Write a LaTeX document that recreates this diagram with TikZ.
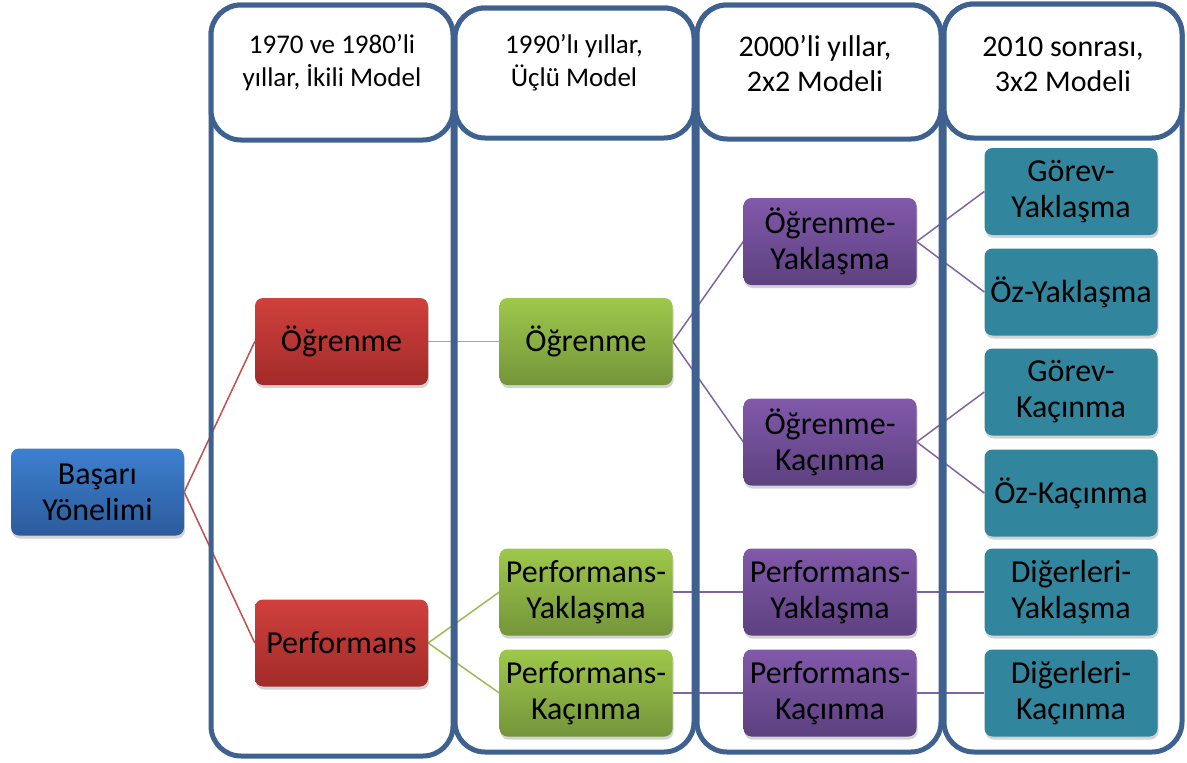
\documentclass[tikz,border=0pt]{standalone}
\usepackage{fontspec}
\setmainfont{Carlito}
\usetikzlibrary{shadows}
\pgfdeclarelayer{lines}
\pgfdeclarelayer{cols}
\pgfsetlayers{lines,cols,main}
\definecolor{colborder}{HTML}{3E6190}
\definecolor{redT}{HTML}{D0403C}
\definecolor{redB}{HTML}{A22B29}
\definecolor{bluT}{HTML}{3D80D0}
\definecolor{bluB}{HTML}{2B5B9C}
\definecolor{grnT}{HTML}{9EC84B}
\definecolor{grnB}{HTML}{74953A}
\definecolor{purT}{HTML}{8159AA}
\definecolor{purB}{HTML}{5D4180}
\definecolor{tealC}{HTML}{31859C}
\definecolor{redL}{HTML}{C0504D}
\definecolor{grnL}{HTML}{9BBB59}
\definecolor{purL}{HTML}{8064A2}
\tikzset{
  box/.style={rounded corners=8pt, minimum width=173pt, minimum height=87pt,
    inner sep=0pt, text width=172pt, align=center,
    font=\fontsize{32}{36}\selectfont,
    drop shadow={shadow xshift=1pt, shadow yshift=-3pt, opacity=0.35}},
  bluebox/.style={box, top color=bluT, bottom color=bluB},
  redbox/.style={box, top color=redT, bottom color=redB},
  grnbox/.style={box, top color=grnT, bottom color=grnB},
  purbox/.style={box, top color=purT, bottom color=purB},
  tealbox/.style={box, fill=tealC},
  colframe/.style={draw=colborder, line width=5pt, rounded corners=30pt},
  headtext/.style={align=center, font=\fontsize{27}{33}\selectfont},
  headbig/.style={align=center, font=\fontsize{30}{35}\selectfont},
  redline/.style={draw=redL, line width=1.5pt},
  grnline/.style={draw=grnL, line width=1.5pt},
  purline/.style={draw=purL, line width=1.5pt}
}
\begin{document}
\begin{tikzpicture}[x=1pt,y=-1pt]
\useasboundingbox (0,0) rectangle (1187,763);
% columns
\begin{pgfonlayer}{cols}
\draw[colframe] (211,5) rectangle (453,756);
\draw[colframe] (455,8) rectangle (694,752);
\draw[colframe] (697,5) rectangle (941,752);
\draw[colframe] (944,4) rectangle (1182,752);
\draw[colframe, fill=white] (211,5) rectangle (453,140);
\draw[colframe, fill=white] (455,8) rectangle (694,138);
\draw[colframe, fill=white] (697,5) rectangle (941,139);
\draw[colframe, fill=white] (944,4) rectangle (1182,138);
\end{pgfonlayer}
\node[headtext] (h1) at (332,63) {1970 ve 1980’li\\yıllar, İkili Model};
\node[headtext] (h2) at (574,63) {1990’lı yıllar,\\Üçlü Model};
\node[headbig] (h3) at (815,64) {2000’li yıllar,\\2x2 Modeli};
\node[headbig] (h4) at (1063,64) {2010 sonrası,\\3x2 Modeli};
% nodes
\node[bluebox] (basari) at (97.5,492) {Başarı\\Yönelimi};
\node[redbox] (ogr1) at (341.5,341.5) {Öğrenme};
\node[redbox] (perf1) at (341.5,643) {Performans};
\node[grnbox] (ogr2) at (586,341.5) {Öğrenme};
\node[grnbox] (py2) at (586,592) {Performans-\\Yaklaşma};
\node[grnbox] (pk2) at (586,693) {Performans-\\Kaçınma};
\node[purbox] (oy3) at (830,241.5) {Öğrenme-\\Yaklaşma};
\node[purbox] (ok3) at (830,442) {Öğrenme-\\Kaçınma};
\node[purbox] (py3) at (830,592) {Performans-\\Yaklaşma};
\node[purbox] (pk3) at (830,693) {Performans-\\Kaçınma};
\node[tealbox] (gy4) at (1071,191.5) {Görev-\\Yaklaşma};
\node[tealbox] (oy4) at (1071,292) {Öz-Yaklaşma};
\node[tealbox] (gk4) at (1071,392) {Görev-\\Kaçınma};
\node[tealbox] (ok4) at (1071,493) {Öz-Kaçınma};
\node[tealbox] (dy4) at (1071,592) {Diğerleri-\\Yaklaşma};
\node[tealbox] (dk4) at (1071,693) {Diğerleri-\\Kaçınma};
% connectors
\begin{pgfonlayer}{lines}
\draw[redline] (basari.east) -- (ogr1.west);
\draw[redline] (basari.east) -- (perf1.west);
\draw[grnline] (ogr1.east) -- (ogr2.west);
\draw[grnline] (perf1.east) -- (py2.west);
\draw[grnline] (perf1.east) -- (pk2.west);
\draw[purline] (ogr2.east) -- (oy3.west);
\draw[purline] (ogr2.east) -- (ok3.west);
\draw[purline] (py2.east) -- (py3.west);
\draw[purline] (pk2.east) -- (pk3.west);
\draw[purline] (oy3.east) -- (gy4.west);
\draw[purline] (oy3.east) -- (oy4.west);
\draw[purline] (ok3.east) -- (gk4.west);
\draw[purline] (ok3.east) -- (ok4.west);
\draw[purline] (py3.east) -- (dy4.west);
\draw[purline] (pk3.east) -- (dk4.west);
\end{pgfonlayer}
\end{tikzpicture}
\end{document}
